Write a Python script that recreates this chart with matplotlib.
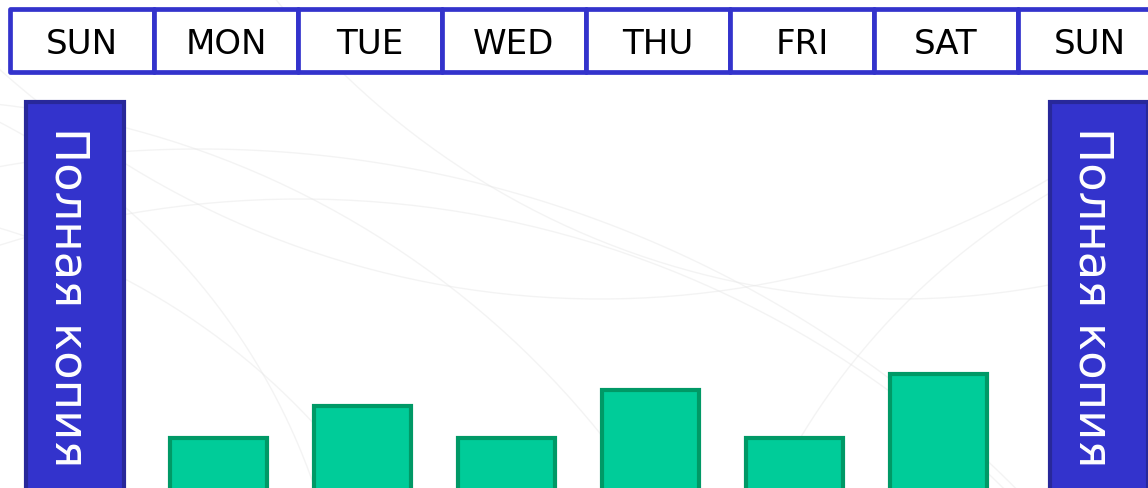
import matplotlib
matplotlib.use("Agg")
import matplotlib.pyplot as plt
from matplotlib.patches import Rectangle
import numpy as np

# ---- data ----
header_days = ["SUN", "MON", "TUE", "WED", "THU", "FRI", "SAT", "SUN"]
bar_days = ["MON", "TUE", "WED", "THU", "FRI", "SAT"]
incremental_sizes = [2, 3, 2, 3.5, 2, 4]
full_backup_size = 12.5
full_backup_label = "Полная копия"

# ---- layout (pixels) ----
W, H, DPI = 1148, 489, 100
SLOT_PX = 144.0
SLOT0_PX = 74.5          # pixel centre of slot 0
BASE_PX = 503.0          # baseline pixel (below image edge)
UNIT_PX = 32.0           # pixels per value unit

fig = plt.figure(figsize=(W / DPI, H / DPI), dpi=DPI)
fig.patch.set_facecolor("white")
ax = fig.add_axes([0, 0, 1, 1])
ax.set_xlim((0 - SLOT0_PX) / SLOT_PX, (W - SLOT0_PX) / SLOT_PX)
ax.set_ylim((BASE_PX - H) / UNIT_PX, BASE_PX / UNIT_PX)
ax.axis("off")

def px_x(p):
    return (p - SLOT0_PX) / SLOT_PX

def px_y(p):
    return (BASE_PX - p) / UNIT_PX

# faint background texture
for cx, cy, r in [(-200, 900, 700), (-100, 1000, 900), (300, 1200, 1000),
                  (600, -600, 900), (900, -500, 800), (1400, 800, 700),
                  (200, 1300, 1150), (-300, 700, 650)]:
    t = np.linspace(0, 2 * np.pi, 600)
    ax.plot(px_x(cx + r * np.cos(t)), px_y(cy + r * np.sin(t)),
            color="#e6e6e6", lw=1.0, alpha=0.45, zorder=0)

# header row
HEAD_TOP, HEAD_BOT = 10, 73
HEAD_LEFT = 10
for i, d in enumerate(header_days):
    x0 = px_x(HEAD_LEFT + i * SLOT_PX)
    x1 = px_x(HEAD_LEFT + (i + 1) * SLOT_PX)
    rect = Rectangle((x0, px_y(HEAD_BOT)), x1 - x0, px_y(HEAD_TOP) - px_y(HEAD_BOT),
                     facecolor="white", edgecolor="#3333CC", lw=3.4, zorder=3,
                     joinstyle="round")
    ax.add_patch(rect)
    ax.text((x0 + x1) / 2, (px_y(HEAD_TOP) + px_y(HEAD_BOT)) / 2, d,
            ha="center", va="center_baseline", fontsize=24.5, color="black",
            family="DejaVu Sans", zorder=4)

# green incremental bars
x_green = np.arange(1, 1 + len(bar_days))
ax.bar(x_green, incremental_sizes, width=97 / SLOT_PX, bottom=0,
       color="#00CC99", edgecolor="#009966", lw=3.0, zorder=2)

# blue full-backup bars (first slot and shifted last slot)
x_blue = [0, 7 + 16 / SLOT_PX]
ax.bar(x_blue, [full_backup_size] * 2, width=98 / SLOT_PX, bottom=0,
       color="#3333CC", edgecolor="#28289A", lw=3.0, zorder=2)
for xb in x_blue:
    ax.text(xb - 6.5 / SLOT_PX, full_backup_size - 24 / UNIT_PX, full_backup_label,
            rotation=-90, rotation_mode="anchor", ha="left", va="center",
            fontsize=33.5, color="white", family="DejaVu Sans", zorder=5)

fig.savefig("out.png", dpi=DPI, facecolor="white")
